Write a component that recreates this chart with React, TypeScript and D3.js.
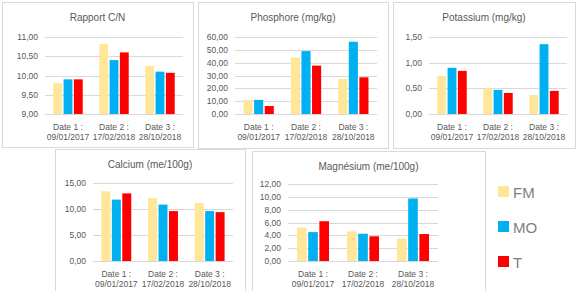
import * as d3 from "d3";

const dates = ["Date 1 :|09/01/2017", "Date 2 :|17/02/2018", "Date 3 :|28/10/2018"];
const seriesNames = ["FM", "MO", "T"];
const seriesColors = ["#FFE699", "#00B0F0", "#FF0000"];

const cnFM = [9.8, 10.82, 10.25];
const cnMO = [9.9, 10.4, 10.1];
const cnT = [9.9, 10.6, 10.07];

const phFM = [10.9, 43.9, 27.3];
const phMO = [11.0, 49.0, 56.3];
const phT = [6.2, 37.7, 28.6];

const kFM = [0.74, 0.5, 0.37];
const kMO = [0.9, 0.47, 1.36];
const kT = [0.84, 0.41, 0.45];

const caFM = [13.4, 12.1, 11.15];
const caMO = [11.8, 10.85, 9.6];
const caT = [13.0, 9.6, 9.4];

const mgFM = [5.2, 4.6, 3.5];
const mgMO = [4.5, 4.25, 9.75];
const mgT = [6.2, 3.85, 4.2];

const fr = d3.formatLocale({ decimal: ",", thousands: " ", grouping: [3], currency: ["", "€"] });
const fmt = fr.format(".2f");

type PanelProps = {
  title: string;
  box: { x: number; y: number; w: number; h: number };
  plot: { x0: number; x1: number; y0: number; y1: number };
  domain: [number, number];
  ticks: number[];
  values: number[][];
};

const Panel = ({ title, box, plot, domain, ticks, values }: PanelProps) => {
  const x = d3.scaleBand<number>().domain(d3.range(dates.length)).range([plot.x0, plot.x1]);
  const inner = d3
    .scaleBand<number>()
    .domain(d3.range(seriesNames.length))
    .range([x.bandwidth() * 0.18, x.bandwidth() * 0.82])
    .paddingInner(0.14);
  const y = d3.scaleLinear().domain(domain).range([plot.y1, plot.y0]);

  return (
    <g>
      <rect x={box.x + 0.5} y={box.y + 0.5} width={box.w} height={box.h} fill="#fff" stroke="#D9D9D9" />
      <text x={box.x + box.w / 2} y={box.y + 19} textAnchor="middle" fontSize={10} fill="#595959">
        {title}
      </text>
      {ticks.map((t) => (
        <g key={t}>
          <line x1={plot.x0} x2={plot.x1} y1={Math.round(y(t)) + 0.5} y2={Math.round(y(t)) + 0.5} stroke="#D9D9D9" />
          <text x={plot.x0 - 7} y={y(t) + 3} textAnchor="end" fontSize={8.5} fill="#595959">
            {fmt(t)}
          </text>
        </g>
      ))}
      {values.map((series, s) =>
        series.map((v, i) => (
          <rect
            key={`${s}-${i}`}
            x={(x(i) ?? 0) + (inner(s) ?? 0)}
            y={y(v)}
            width={inner.bandwidth()}
            height={y(domain[0]) - y(v)}
            fill={seriesColors[s]}
          />
        )),
      )}
      {dates.map((d, i) => {
        const [l1, l2] = d.split("|");
        const cx = (x(i) ?? 0) + x.bandwidth() / 2;
        return (
          <text key={d} x={cx} textAnchor="middle" fontSize={8.5} fill="#595959">
            <tspan x={cx} y={plot.y1 + 16}>{l1}</tspan>
            <tspan x={cx} y={plot.y1 + 26}>{l2}</tspan>
          </text>
        );
      })}
    </g>
  );
};

export default function App() {
  return (
    <svg
      width={576}
      height={291}
      style={{ position: "absolute", left: 0, top: 0, fontFamily: "'Liberation Sans', Arial, sans-serif" }}
    >
      <rect width={576} height={291} fill="#fff" />
      <Panel
        title="Rapport C/N"
        box={{ x: 2, y: 2, w: 191, h: 145 }}
        plot={{ x0: 45, x1: 183, y0: 37, y1: 114 }}
        domain={[9, 11]}
        ticks={[9, 9.5, 10, 10.5, 11]}
        values={[cnFM, cnMO, cnT]}
      />
      <Panel
        title="Phosphore (mg/kg)"
        box={{ x: 198, y: 2, w: 190, h: 146 }}
        plot={{ x0: 235, x1: 377, y0: 37, y1: 114 }}
        domain={[0, 60]}
        ticks={[0, 10, 20, 30, 40, 50, 60]}
        values={[phFM, phMO, phT]}
      />
      <Panel
        title="Potassium (mg/kg)"
        box={{ x: 393, y: 2, w: 182, h: 146 }}
        plot={{ x0: 429, x1: 567, y0: 37, y1: 114 }}
        domain={[0, 1.5]}
        ticks={[0, 0.5, 1, 1.5]}
        values={[kFM, kMO, kT]}
      />
      <Panel
        title="Calcium (me/100g)"
        box={{ x: 55, y: 149, w: 190, h: 143 }}
        plot={{ x0: 93, x1: 233, y0: 183, y1: 261 }}
        domain={[0, 15]}
        ticks={[0, 5, 10, 15]}
        values={[caFM, caMO, caT]}
      />
      <Panel
        title="Magnésium (me/100g)"
        box={{ x: 252, y: 151, w: 233, h: 141 }}
        plot={{ x0: 288, x1: 438, y0: 184, y1: 261 }}
        domain={[0, 12]}
        ticks={[0, 2, 4, 6, 8, 10, 12]}
        values={[mgFM, mgMO, mgT]}
      />
      {seriesNames.map((n, i) => (
        <g key={n} transform={`translate(498, ${192 + i * 35})`}>
          <rect x={0} y={-6} width={11} height={11} fill={seriesColors[i]} />
          <text x={15} y={6} fontSize={15} fill="#7F7F7F">
            {n}
          </text>
        </g>
      ))}
    </svg>
  );
}
